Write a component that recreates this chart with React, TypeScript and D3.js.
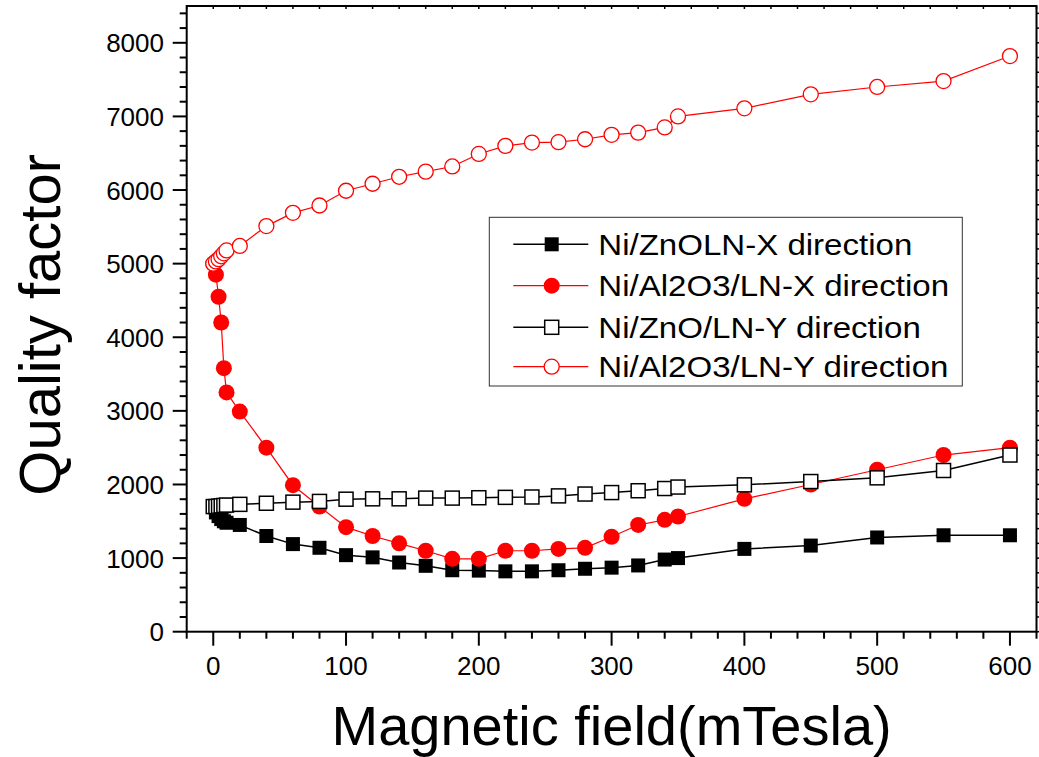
import React from "react";
import * as d3 from "d3";

const field = [0, 2, 4, 6, 8, 10, 20, 40, 60, 80, 100, 120, 140, 160, 180, 200, 220, 240, 260, 280, 300, 320, 340, 350, 400, 450, 500, 550, 600];
const znoX = [1700, 1620, 1570, 1530, 1500, 1480, 1450, 1300, 1190, 1140, 1040, 1010, 940, 895, 835, 830, 820, 820, 835, 855, 870, 900, 980, 1000, 1125, 1170, 1280, 1310, 1310];
const alX = [5000, 4850, 4550, 4200, 3580, 3250, 2990, 2500, 1990, 1700, 1420, 1300, 1200, 1100, 990, 990, 1100, 1100, 1125, 1140, 1290, 1450, 1520, 1565, 1805, 2000, 2200, 2400, 2500];
const znoY = [1700, 1700, 1705, 1710, 1715, 1720, 1730, 1745, 1760, 1770, 1800, 1805, 1805, 1815, 1815, 1820, 1825, 1830, 1845, 1870, 1890, 1915, 1945, 1965, 1995, 2040, 2090, 2190, 2400];
const alY = [5000, 5030, 5060, 5100, 5140, 5180, 5240, 5510, 5690, 5790, 5990, 6085, 6180, 6250, 6320, 6490, 6600, 6645, 6650, 6690, 6750, 6780, 6850, 7000, 7110, 7300, 7400, 7480, 7820];

const seriesNames = ["Ni/ZnOLN-X direction", "Ni/Al2O3/LN-X direction", "Ni/ZnO/LN-Y direction", "Ni/Al2O3/LN-Y direction"];
const xTickLabels = [0, 100, 200, 300, 400, 500, 600];
const yTickLabels = [0, 1000, 2000, 3000, 4000, 5000, 6000, 7000, 8000];
const xTitle = "Magnetic field(mTesla)";
const yTitle = "Quality factor";

const FONT = "'Liberation Sans', Arial, Helvetica, sans-serif";

type Style = { color: string; marker: "square" | "circle"; filled: boolean; lw: number };
const styles: Style[] = [
  { color: "#000", marker: "square", filled: true, lw: 1.5 },
  { color: "#ff0000", marker: "circle", filled: true, lw: 1.2 },
  { color: "#000", marker: "square", filled: false, lw: 1.5 },
  { color: "#ff0000", marker: "circle", filled: false, lw: 1.2 },
];

function Marker({ x, y, s }: { x: number; y: number; s: Style }) {
  if (s.marker === "square") {
    const h = 7;
    return (
      <rect
        x={x - h}
        y={y - h}
        width={2 * h}
        height={2 * h}
        fill={s.filled ? s.color : "#fff"}
        stroke={s.filled ? "none" : s.color}
        strokeWidth={s.filled ? 0 : 1.5}
      />
    );
  }
  return s.filled ? (
    <circle cx={x} cy={y} r={8} fill={s.color} />
  ) : (
    <circle cx={x} cy={y} r={7.5} fill="#fff" stroke={s.color} strokeWidth={1.3} />
  );
}

export default function App() {
  const W = 1039, H = 757;
  const left = 186.7, right = 1036.5, top = 6, bottom = 631.7;
  const x = d3.scaleLinear().domain([-20, 620]).range([left, right]);
  const y = d3.scaleLinear().domain([0, 8500]).range([bottom, top]);
  const data = [znoX, alX, znoY, alY];
  const line = d3
    .line<number>()
    .x((_, i) => x(field[i]))
    .y((v) => y(v));

  const xMinor = d3.range(-20, 621, 20);
  const yMinor = d3.range(0, 8501, 200);

  const legX = 489.3, legY = 217.3, legW = 473, legH = 168.7;
  const rowY = [244.3, 285.7, 327.3, 366.7];

  return (
    <svg width={W} height={H} style={{ position: "absolute", left: 0, top: 0, background: "#fff" }} fontFamily={FONT}>
      <rect x={0} y={0} width={W} height={H} fill="#fff" />
      {data.map((vals, si) => (
        <g key={si}>
          <path d={line(vals) || ""} fill="none" stroke={styles[si].color} strokeWidth={styles[si].lw} />
          {vals.map((v, i) => (
            <Marker key={i} x={x(field[i])} y={y(v)} s={styles[si]} />
          ))}
        </g>
      ))}
      <rect x={left} y={top} width={right - left} height={bottom - top} fill="none" stroke="#000" strokeWidth={2} />
      {xMinor.map((t) => {
        const major = t % 100 === 0;
        return <line key={"xb" + t} x1={x(t)} x2={x(t)} y1={bottom} y2={bottom + (major ? 14 : 7)} stroke="#000" strokeWidth={2} />;
      })}
      {xMinor.map((t) => (
        <line key={"xt" + t} x1={x(t)} x2={x(t)} y1={top} y2={top + 3} stroke="#000" strokeWidth={1.5} />
      ))}
      {yMinor.map((t) => {
        const major = t % 1000 === 0;
        return <line key={"yl" + t} x1={left} x2={left - (major ? 14 : 7)} y1={y(t)} y2={y(t)} stroke="#000" strokeWidth={2} />;
      })}
      {yMinor.map((t) => {
        const major = t % 1000 === 0;
        return <line key={"yr" + t} x1={right} x2={right + (major ? 6 : 3)} y1={y(t)} y2={y(t)} stroke="#000" strokeWidth={1.5} />;
      })}
      {xTickLabels.map((t) => (
        <text key={"xl" + t} x={x(t)} y={675} textAnchor="middle" fontSize={26}>
          {t}
        </text>
      ))}
      {yTickLabels.map((t) => (
        <text key={"yl" + t} x={164} y={y(t) + 9.5} textAnchor="end" fontSize={26}>
          {t}
        </text>
      ))}
      <text x={(left + right) / 2} y={745} textAnchor="middle" fontSize={56}>
        {xTitle}
      </text>
      <text transform={`translate(60, ${(top + bottom) / 2 + 6}) rotate(-90)`} textAnchor="middle" fontSize={58}>
        {yTitle}
      </text>
      <rect x={legX} y={legY} width={legW} height={legH} fill="#fff" stroke="#333" strokeWidth={1} />
      {seriesNames.map((name, i) => (
        <g key={name}>
          <line x1={513.3} x2={588.3} y1={rowY[i]} y2={rowY[i]} stroke={styles[i].color} strokeWidth={styles[i].lw} />
          <Marker x={551.7} y={rowY[i]} s={styles[i]} />
          <text transform={`translate(598.3, ${rowY[i] + 10.3}) scale(1.14, 1)`} fontSize={29}>
            {name}
          </text>
        </g>
      ))}
    </svg>
  );
}
